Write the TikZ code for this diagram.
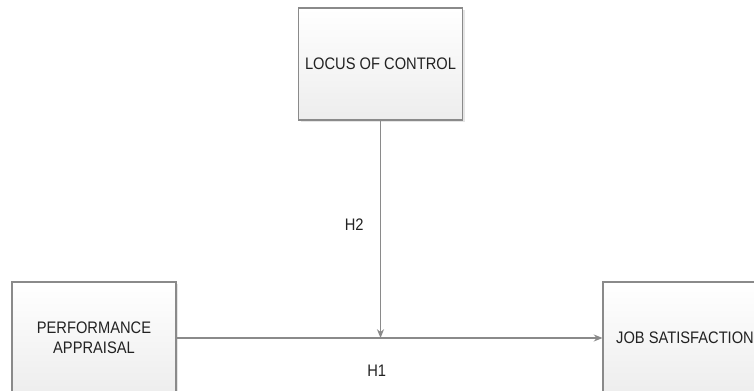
\documentclass[tikz,border=0pt]{standalone}
\usepackage{fontspec}
\setmainfont{Liberation Sans}[FakeStretch=0.88]
\usetikzlibrary{arrows.meta,shadows}
\definecolor{linegray}{HTML}{8A8A8A}
\definecolor{textgray}{HTML}{222222}
\tikzset{
  varbox/.style={draw=linegray, line width=0.6pt, top color=white, bottom color=black!7,
    minimum width=3.28cm, minimum height=2.24cm, align=center, text=textgray,
    font=\fontsize{9.5}{11.5}\selectfont,
    drop shadow={shadow xshift=1.2pt, shadow yshift=-1.2pt, opacity=0.25, fill=black!40}},
  link/.style={draw=linegray, line width=0.6pt, -{Stealth[length=5pt,width=4pt]}},
  hyp/.style={text=textgray, font=\fontsize{9.5}{11}\selectfont}
}
\begin{document}
\begin{tikzpicture}[x=0.02cm, y=-0.02cm]
        \clip (0,0) rectangle (754,391);
        \fill[white] (0,0) rectangle (754,391);
        % the three variables
        \node[varbox] (lc) at (380.5, 64)  {LOCUS OF CONTROL};
        \node[varbox] (pa) at (94, 338)    {PERFORMANCE\\APPRAISAL};
        \node[varbox] (js) at (685, 338)   {JOB SATISFACTION};
        % direct effect
        \draw[link] (pa) -- (js) node[hyp, pos=0.47, below=11.5pt] (h1) {H1};
        % moderating effect
        \coordinate (m) at (lc.south |- pa.east);
        \draw[link] (lc) -- (m) node[hyp, pos=0.48, left=6pt] (h2) {H2};
\end{tikzpicture}
\end{document}
